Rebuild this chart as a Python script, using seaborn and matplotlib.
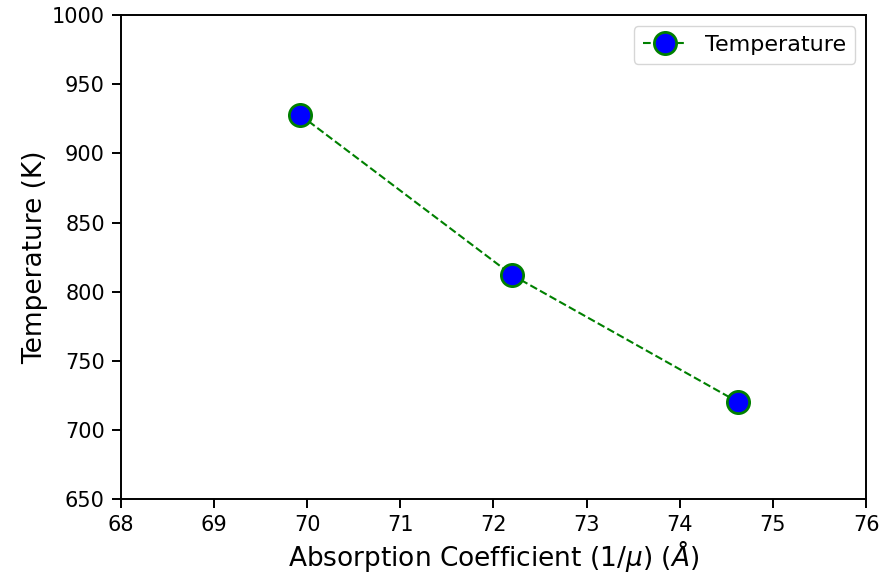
import matplotlib
matplotlib.use("Agg")
import matplotlib.pyplot as plt
import seaborn as sns
import pandas as pd

absorption = [69.92, 72.2, 74.63]
temperature = [928, 812, 720]
x_ticks = [68, 69, 70, 71, 72, 73, 74, 75, 76]
y_ticks = [650, 700, 750, 800, 850, 900, 950, 1000]

df = pd.DataFrame({"Absorption": absorption, "Temperature": temperature})

plt.rcParams['font.family'] = ['DejaVu Sans']
fig = plt.figure(figsize=(8.82, 5.79), dpi=100)
ax = fig.add_axes([0.137, 0.138, 0.845, 0.836])

sns.lineplot(data=df, x="Absorption", y="Temperature", ax=ax,
             color="green", linestyle="--", marker="o", markersize=16,
             markerfacecolor="blue", markeredgecolor="green", markeredgewidth=2,
             label="Temperature", legend=True)

ax.set_xlim(68, 76)
ax.set_ylim(650, 1000)
ax.set_xticks(x_ticks)
ax.set_yticks(y_ticks)
ax.tick_params(labelsize=15, length=6.5, width=1.4, pad=5)
for s in ax.spines.values():
    s.set_linewidth(1.4)
ax.set_xlabel(r"Absorption Coefficient (1/$\mu$) ($\AA$)", fontsize=19, labelpad=2)
ax.set_ylabel("Temperature (K)", fontsize=19, labelpad=3)
ax.legend(loc="upper right", fontsize=16)

fig.savefig("out.png", dpi=100)
